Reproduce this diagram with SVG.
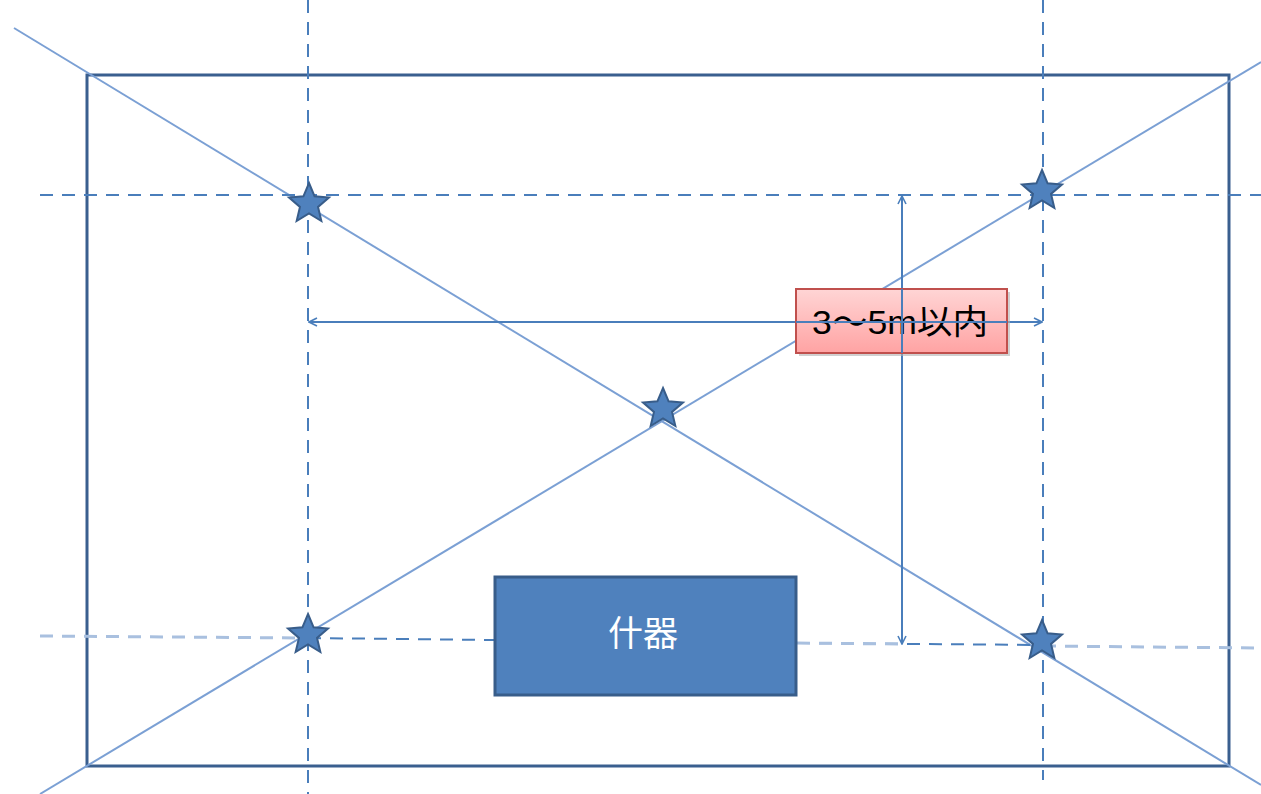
<svg xmlns="http://www.w3.org/2000/svg" width="1261" height="794" viewBox="0 0 1261 794">
<style>
.diag{stroke:#7ba0d4;stroke-width:2;fill:none}
.dash{stroke:#4a7ebb;stroke-width:2;stroke-dasharray:13 9;fill:none}
.dashl{stroke:#a9c0df;stroke-width:3;stroke-dasharray:13 9;fill:none}
.dim{stroke:#4a7ebb;stroke-width:2;fill:none}
.star{fill:#4f81bd;stroke:#385d8a;stroke-width:2}
</style>
<defs>
<linearGradient id="pink" x1="0" y1="0" x2="0" y2="1">
<stop offset="0" stop-color="#ffd5d5"/>
<stop offset="1" stop-color="#ffa3a3"/>
</linearGradient>
<marker id="oa" viewBox="0 0 10 10" refX="9" refY="5" markerWidth="10" markerHeight="10" markerUnits="userSpaceOnUse" orient="auto-start-reverse">
<path d="M1,1 L9,5 L1,9" fill="none" stroke="#4a7ebb" stroke-width="1.6"/>
</marker>
<path id="st" d="M0,-21 L5.58,-7.69 L19.97,-6.49 L9.03,2.94 L12.34,16.99 L0,9.5 L-12.34,16.99 L-9.03,2.94 L-19.97,-6.49 L-5.58,-7.69 Z"/>
</defs>
<rect width="1261" height="794" fill="#ffffff"/>
<g id="room">
<rect x="87" y="75" width="1142" height="691" fill="none" stroke="#3a5f8f" stroke-width="3"/>
</g>
<g id="connectors">
<line class="diag" x1="14" y1="28" x2="1261" y2="785"/>
<line class="diag" x1="40" y1="794" x2="1261" y2="62"/>
<line class="dash" x1="308" y1="0" x2="308" y2="794"/>
<line class="dash" x1="1043" y1="0" x2="1043" y2="780"/>
<line class="dash" x1="40" y1="195" x2="1261" y2="195"/>
<line class="dashl" x1="40" y1="636" x2="308" y2="638"/>
<line class="dash" x1="308" y1="638" x2="494" y2="640"/>
<line class="dash" x1="797" y1="643" x2="1043" y2="645"/>
<line class="dashl" x1="797" y1="643" x2="900" y2="644"/>
<line class="dashl" x1="1043" y1="646" x2="1261" y2="648"/>
<line class="dim" x1="902" y1="196" x2="902" y2="644" marker-start="url(#oa)" marker-end="url(#oa)"/>
<line class="dim" x1="309" y1="322" x2="1042" y2="322" marker-start="url(#oa)" marker-end="url(#oa)"/>
</g>
<g id="label">
<rect x="799" y="292" width="211" height="64" fill="#b0b0b0" opacity="0.6"/>
<rect x="796" y="289" width="211" height="64" fill="url(#pink)" stroke="#c0504d" stroke-width="2"/>
<text x="900" y="334" font-family="'Liberation Sans','Noto Sans CJK JP',sans-serif" font-size="34" fill="#000" text-anchor="middle" textLength="176" lengthAdjust="spacingAndGlyphs">3～5m以内</text>
<line class="dim" x1="796" y1="322" x2="1007" y2="322"/>
<line class="dim" x1="902" y1="289" x2="902" y2="353"/>
</g>
<g id="furniture">
<rect x="495" y="577" width="301" height="118" fill="#4f81bd" stroke="#385d8a" stroke-width="3"/>
<text x="643" y="646" font-family="'Noto Sans CJK JP',sans-serif" font-size="35" fill="#ffffff" text-anchor="middle">什器</text>
</g>
<g id="star1"><use href="#st" class="star" x="309" y="204"/></g>
<g id="star2"><use href="#st" class="star" x="1042" y="191"/></g>
<g id="star3"><use href="#st" class="star" x="663" y="409"/></g>
<g id="star4"><use href="#st" class="star" x="308" y="635"/></g>
<g id="star5"><use href="#st" class="star" x="1042" y="641"/></g>
</svg>
